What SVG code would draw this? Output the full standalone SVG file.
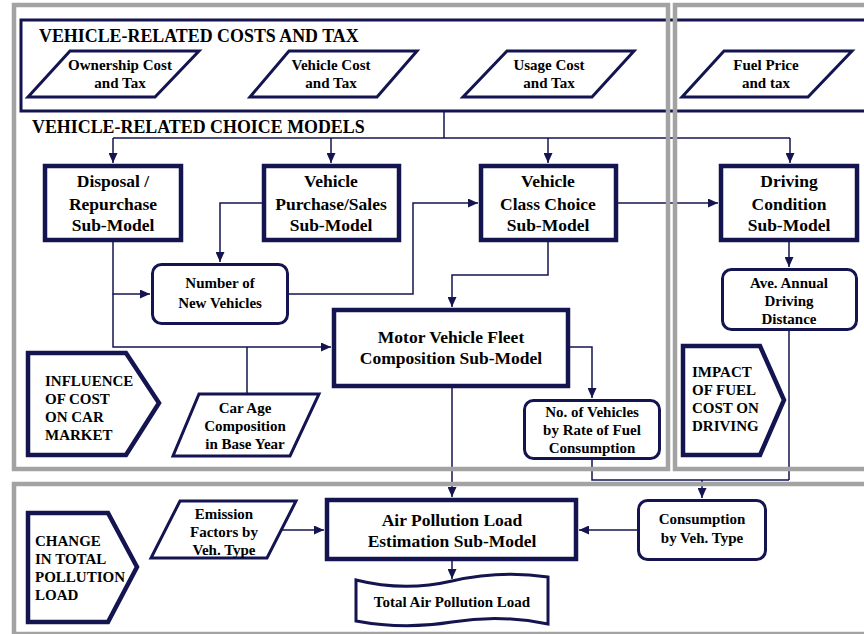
<svg xmlns="http://www.w3.org/2000/svg" width="864" height="634" viewBox="0 0 864 634">
<defs>
<marker id="ah" markerUnits="userSpaceOnUse" markerWidth="10" markerHeight="9" refX="10" refY="4.5" orient="auto">
<path d="M0,0 L10,4.5 L0,9 z" fill="#141450"/>
</marker>
<style>
text{font-family:"Liberation Serif","Times New Roman",serif;font-weight:bold;fill:#000}
.t17{font-size:17.5px;text-anchor:middle}
.t15{font-size:15px;text-anchor:middle}
.tl{font-size:15px;text-anchor:start}
.hd{font-size:17.9px;text-anchor:start}
.box{fill:#fff;stroke:#141450;stroke-width:4.5}
.rbox{fill:#fff;stroke:#141450;stroke-width:3}
.par{fill:#fff;stroke:#141450;stroke-width:3;stroke-linejoin:miter}
.pent{fill:#fff;stroke:#141450;stroke-width:4.5;stroke-linejoin:miter}
.panel{fill:none;stroke:#a3a3a3;stroke-width:4.5}
.con{fill:none;stroke:#141450;stroke-width:1.5}
.arr{fill:none;stroke:#141450;stroke-width:1.5;marker-end:url(#ah)}
</style>
</defs>
<rect width="864" height="634" fill="#fff"/>

<g id="costs-frame">
<rect x="21" y="20" width="860" height="91" fill="none" stroke="#141450" stroke-width="3"/>
<text class="hd" x="39" y="42">VEHICLE-RELATED COSTS AND TAX</text>
</g>
<text class="hd" x="32" y="133">VEHICLE-RELATED CHOICE MODELS</text>

<g id="connectors">
<path class="con" d="M444,112 V138 M113,138 H790"/>
<path class="arr" d="M113,138 V163"/>
<path class="arr" d="M331,138 V163"/>
<path class="arr" d="M548,138 V163"/>
<path class="arr" d="M790,138 V163"/>
<path class="arr" d="M262,203 H220 V262"/>
<path class="arr" d="M113,242 V294 H150"/>
<path class="arr" d="M113,294 V347 H331"/>
<path class="arr" d="M289,294 H413 V203 H478"/>
<path class="arr" d="M618,203 H718"/>
<path class="arr" d="M548,242 V275 H452 V307"/>
<path class="arr" d="M789,242 V267"/>
<path class="con" d="M247,347 V394"/>
<path class="arr" d="M570,347 H592 V398"/>
<path class="arr" d="M452,388 V497"/>
<path class="con" d="M592,460 V480 H789 M789,331 V480"/>
<path class="arr" d="M702,480 V498"/>
<path class="arr" d="M282,530 H324"/>
<path class="arr" d="M637,530 H579"/>
<path class="arr" d="M452,561 V579"/>
</g>

<g id="panels">
<rect class="panel" x="14" y="5" width="654" height="464"/>
<rect class="panel" x="675" y="5" width="200" height="464"/>
<rect class="panel" x="14" y="484" width="860" height="150"/>
</g>

<g id="ownership">
<polygon class="par" points="70,51 199,51 155,97 28,97"/>
<text class="t15" x="120" y="70">Ownership Cost</text>
<text class="t15" x="120" y="88">and Tax</text>
</g>
<g id="vehicle-cost">
<polygon class="par" points="289,51 417,51 377,97 250,97"/>
<text class="t15" x="331" y="70">Vehicle Cost</text>
<text class="t15" x="331" y="88">and Tax</text>
</g>
<g id="usage-cost">
<polygon class="par" points="507,51 634,51 592,97 463,97"/>
<text class="t15" x="549" y="70">Usage Cost</text>
<text class="t15" x="549" y="88">and Tax</text>
</g>
<g id="fuel-price">
<polygon class="par" points="724,51 852,51 808,97 682,97"/>
<text class="t15" x="766" y="70">Fuel Price</text>
<text class="t15" x="766" y="88">and tax</text>
</g>

<g id="disposal">
<rect class="box" x="45" y="166" width="136" height="74"/>
<text class="t17" x="113" y="187">Disposal /</text>
<text class="t17" x="113" y="210">Repurchase</text>
<text class="t17" x="113" y="231">Sub-Model</text>
</g>
<g id="purchase">
<rect class="box" x="264" y="166" width="135" height="74"/>
<text class="t17" x="331" y="187">Vehicle</text>
<text class="t17" x="331" y="210">Purchase/Sales</text>
<text class="t17" x="331" y="231">Sub-Model</text>
</g>
<g id="class-choice">
<rect class="box" x="481" y="166" width="135" height="74"/>
<text class="t17" x="548" y="187">Vehicle</text>
<text class="t17" x="548" y="210">Class Choice</text>
<text class="t17" x="548" y="231">Sub-Model</text>
</g>
<g id="driving">
<rect class="box" x="721" y="166" width="136" height="74"/>
<text class="t17" x="789" y="187">Driving</text>
<text class="t17" x="789" y="210">Condition</text>
<text class="t17" x="789" y="231">Sub-Model</text>
</g>

<g id="new-vehicles">
<rect class="rbox" x="152.5" y="264.5" width="135" height="59" rx="9"/>
<text class="t15" x="220" y="288">Number of</text>
<text class="t15" x="220" y="308">New Vehicles</text>
</g>
<g id="ave-annual">
<rect class="rbox" x="722.5" y="269.5" width="134" height="60" rx="9"/>
<text class="t15" x="789" y="288">Ave. Annual</text>
<text class="t15" x="789" y="306">Driving</text>
<text class="t15" x="789" y="324">Distance</text>
</g>

<g id="fleet">
<rect class="box" x="334" y="310" width="234" height="76"/>
<text class="t17" x="451" y="343">Motor Vehicle Fleet</text>
<text class="t17" x="451" y="364">Composition Sub-Model</text>
</g>

<g id="influence">
<polygon class="pent" points="28,353 126,353 159,403 126,455 28,455"/>
<text class="tl" x="45" y="386">INFLUENCE</text>
<text class="tl" x="45" y="404">OF COST</text>
<text class="tl" x="45" y="422">ON CAR</text>
<text class="tl" x="45" y="440">MARKET</text>
</g>
<g id="car-age">
<polygon class="par" points="199,394 319,394 290,456 173,456"/>
<text class="t15" x="245" y="413">Car Age</text>
<text class="t15" x="245" y="431">Composition</text>
<text class="t15" x="245" y="449">in Base Year</text>
</g>
<g id="no-vehicles">
<rect class="rbox" x="524.5" y="400.5" width="135" height="58" rx="9"/>
<text class="t15" x="592" y="417">No. of Vehicles</text>
<text class="t15" x="592" y="435">by Rate of Fuel</text>
<text class="t15" x="592" y="453">Consumption</text>
</g>
<g id="impact">
<polygon class="pent" points="683,346 760,346 784,400 760,455 683,455"/>
<text class="tl" x="692" y="377">IMPACT</text>
<text class="tl" x="692" y="395">OF FUEL</text>
<text class="tl" x="692" y="413">COST ON</text>
<text class="tl" x="692" y="431">DRIVING</text>
</g>

<g id="change">
<polygon class="pent" points="28,513 108,513 137,567 108,622 28,622"/>
<text class="tl" x="35" y="546">CHANGE</text>
<text class="tl" x="35" y="564">IN TOTAL</text>
<text class="tl" x="35" y="582">POLLUTION</text>
<text class="tl" x="35" y="600">LOAD</text>
</g>
<g id="emission">
<polygon class="par" points="180,501 296,501 267,558 151,558"/>
<text class="t15" x="224" y="519">Emission</text>
<text class="t15" x="224" y="537">Factors by</text>
<text class="t15" x="224" y="555">Veh. Type</text>
</g>
<g id="air-pollution">
<rect class="box" x="327" y="500" width="249" height="59"/>
<text class="t17" x="452" y="526">Air Pollution Load</text>
<text class="t17" x="452" y="547">Estimation Sub-Model</text>
</g>
<g id="consumption">
<rect class="rbox" x="638.5" y="500.5" width="127" height="59" rx="9"/>
<text class="t15" x="702" y="524">Consumption</text>
<text class="t15" x="702" y="543">by Veh. Type</text>
</g>
<g id="total-air">
<path d="M356,580 Q404,592 452,581 T548,577 V624 Q500,614 452,622 T356,621 Z" fill="#fff" stroke="#141450" stroke-width="3"/>
<text class="t15" x="452" y="607">Total Air Pollution Load</text>
</g>
</svg>
